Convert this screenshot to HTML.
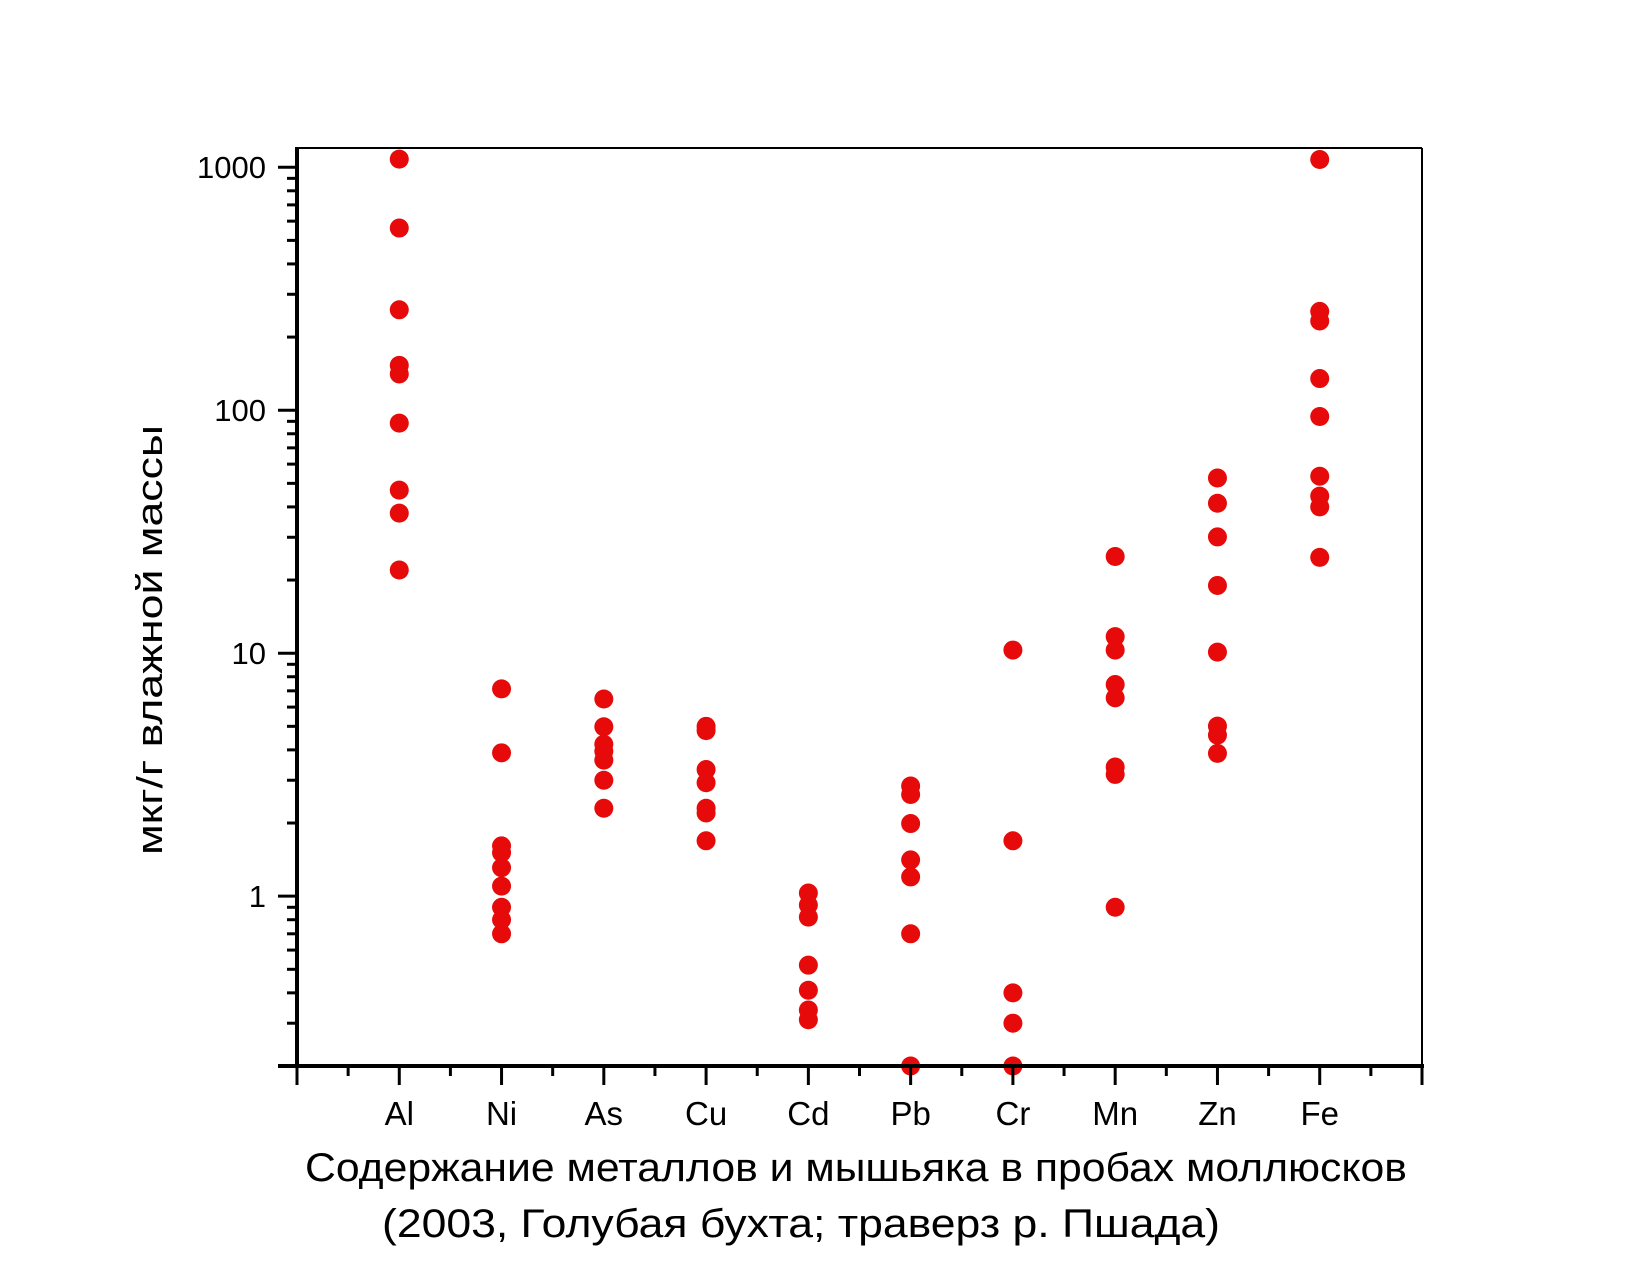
<!DOCTYPE html>
<html><head><meta charset="utf-8"><style>
html,body{margin:0;padding:0;background:#fff;}
svg{display:block;font-family:"Liberation Sans",Arial,sans-serif;}
</style></head><body>
<svg id="chart" width="1650" height="1275" viewBox="0 0 1650 1275" xmlns="http://www.w3.org/2000/svg">
<rect x="0" y="0" width="1650" height="1275" fill="#fff"/>
<g id="marks"></g>
<g id="axes"></g>
<text transform="translate(162,640) rotate(-90)" text-anchor="middle" font-size="36" textLength="430" lengthAdjust="spacingAndGlyphs">мкг/г влажной массы</text>
<text x="305" y="1181" font-size="40" textLength="1102" lengthAdjust="spacingAndGlyphs">Содержание металлов и мышьяка в пробах моллюсков</text>
<text x="382" y="1237" font-size="40" textLength="838" lengthAdjust="spacingAndGlyphs">(2003, Голубая бухта; траверз р. Пшада)</text>
</svg>
<script>
const categories = ["Al","Ni","As","Cu","Cd","Pb","Cr","Mn","Zn","Fe"];
const alValues = [1080,562,259,153,141,88.5,46.9,37.7,22];
const niValues = [7.13,3.89,1.61,1.51,1.31,1.10,0.90,0.80,0.70];
const asValues = [6.48,4.98,4.22,3.95,3.63,3.0,2.30];
const cuValues = [5.0,4.8,3.32,2.93,2.3,2.2,1.69];
const cdValues = [1.03,0.92,0.82,0.52,0.41,0.34,0.31];
const pbValues = [2.84,2.62,1.99,1.41,1.20,0.70,0.2];
const crValues = [10.3,1.69,0.40,0.30,0.2];
const mnValues = [25.0,11.7,10.3,7.43,6.55,3.40,3.17,0.90];
const znValues = [52.6,41.4,30.1,19.0,10.1,5.01,4.60,3.87];
const feValues = [1076,255,233,135,94.2,53.5,44.3,40.0,24.8];
const seriesValues = [alValues,niValues,asValues,cuValues,cdValues,pbValues,crValues,mnValues,znValues,feValues];
const yTickLabels = ["1","10","100","1000"];
const yTickValues = [1,10,100,1000];

const NS="http://www.w3.org/2000/svg";
const X0=297, X1=1422, Y0=1066, Y1=148;
const yMin=0.2, yMax=1200;
const xScale = i => X0 + (i+1)*(X1-X0)/11;
const yScale = v => Y0 - (Math.log10(v)-Math.log10(yMin))/(Math.log10(yMax)-Math.log10(yMin))*(Y0-Y1);

function mk(tag, attrs, parent){const e=document.createElementNS(NS,tag);for(const k in attrs)e.setAttribute(k,attrs[k]);parent.appendChild(e);return e;}
const marks=document.getElementById('marks');
const axes=document.getElementById('axes');

seriesValues.forEach((vals,i)=>{
  vals.forEach(v=>{
    const c=mk('circle',{cx:xScale(i),cy:yScale(v),r:9.5,fill:'#e60a0a'},marks);
    
    
  });
});

// frame
let f=mk('line',{x1:X0,y1:Y1,x2:X1,y2:Y1,stroke:'#000','stroke-width':2},axes);


f=mk('line',{x1:X1,y1:Y1,x2:X1,y2:Y0,stroke:'#000','stroke-width':2},axes);


f=mk('line',{x1:X0,y1:Y1-1,x2:X0,y2:Y0+2,stroke:'#000','stroke-width':4},axes);


f=mk('line',{x1:X0-19,y1:Y0,x2:X1+2,y2:Y0,stroke:'#000','stroke-width':4},axes);



// y ticks
for(let d=-1; d<=3; d++){
  for(let m=1;m<=9;m++){
    const v=m*Math.pow(10,d);
    if(v<yMin-1e-9||v>yMax) continue;
    const y=yScale(v);
    const major=(m===1);
    const t=mk('line',{x1:X0-(major?19:10),y1:y,x2:X0,y2:y,stroke:'#000','stroke-width':3},axes);
    
    
  }
}
yTickValues.forEach((v,i)=>{
  const t=mk('text',{x:266,y:yScale(v)+11,'text-anchor':'end','font-size':31},axes);
  t.textContent=yTickLabels[i];
  
  
});

// x ticks
for(let k=0;k<=22;k++){
  const x=X0+k*(X1-X0)/22;
  const major=(k%2===0);
  const t=mk('line',{x1:x,y1:Y0,x2:x,y2:Y0+(major?19:10),stroke:'#000','stroke-width':3},axes);
  
  
}
categories.forEach((c,i)=>{
  const t=mk('text',{x:xScale(i),y:1125,'text-anchor':'middle','font-size':33},axes);
  t.textContent=c;
  
  
});
</script>
</body></html>
